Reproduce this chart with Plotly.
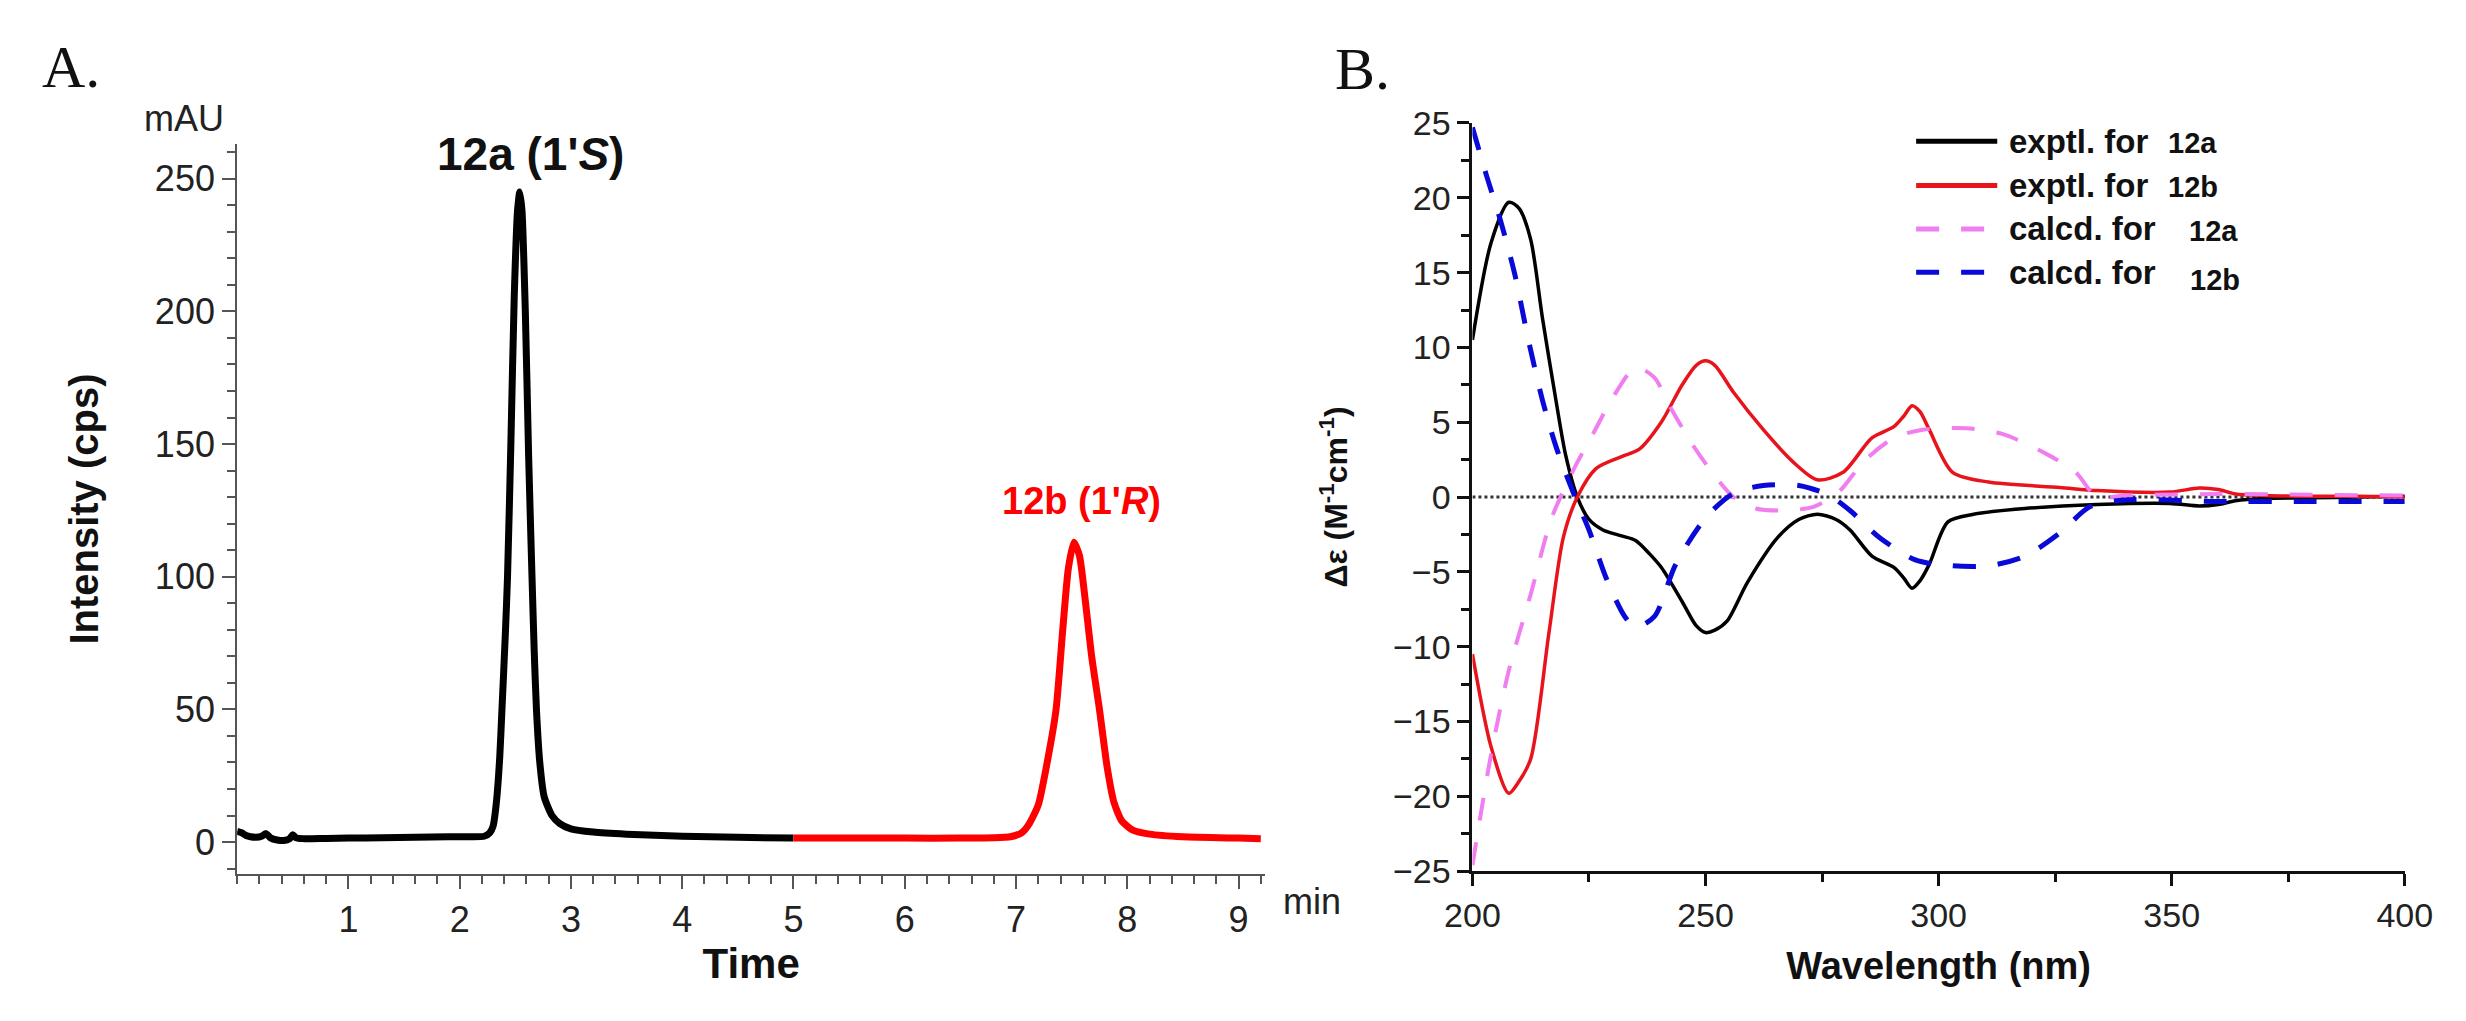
import plotly.graph_objects as go

# ---------------- Panel A: chromatogram ----------------
time_12a = [0.0, 0.04, 0.08, 0.12, 0.17, 0.22, 0.26, 0.3, 0.36, 0.42, 0.47, 0.5, 0.53, 0.6, 0.8, 1.0, 1.3, 1.6,
            1.9, 2.1, 2.22, 2.27, 2.3, 2.33, 2.36, 2.38, 2.41, 2.43, 2.46, 2.49, 2.52, 2.54, 2.56, 2.59, 2.62,
            2.65, 2.67, 2.69, 2.72, 2.76, 2.83, 2.9, 3.0, 3.2, 3.5, 4.0, 4.5, 5.0]
int_12a = [4.0, 3.5, 2.5, 2.0, 1.8, 2.2, 3.2, 1.6, 0.8, 0.6, 1.2, 2.8, 1.6, 1.3, 1.4, 1.5, 1.6, 1.8,
           2.0, 2.0, 2.2, 3.5, 6.0, 15.0, 32.0, 50.0, 78.0, 100.0, 150.0, 205.0, 238.0, 245.0, 238.0, 200.0, 145.0,
           100.0, 72.0, 50.0, 30.0, 17.0, 10.0, 7.0, 5.0, 3.8, 3.0, 2.2, 1.8, 1.5]

time_12b = [5.0, 5.5, 6.0, 6.5, 6.8, 6.95, 7.05, 7.12, 7.2, 7.28, 7.36, 7.42, 7.47, 7.52, 7.57, 7.62, 7.68, 7.75,
            7.82, 7.88, 7.95, 8.05, 8.2, 8.5, 9.0, 9.2]
int_12b = [1.5, 1.5, 1.5, 1.5, 1.6, 2.0, 3.5, 7.0, 14.0, 30.0, 50.0, 80.0, 103.0, 113.0, 108.0, 92.0, 70.0, 50.0,
           28.0, 15.0, 8.0, 4.5, 3.0, 2.0, 1.5, 1.3]

a_xticks = [1, 2, 3, 4, 5, 6, 7, 8, 9]
a_yticks = [0, 50, 100, 150, 200, 250]

# ---------------- Panel B: CD spectra ----------------
wl_exp_12a = [200, 204, 207.8, 210, 212.5, 215, 218, 220, 222.5, 225, 228, 232, 235, 238, 240.5, 245, 248, 250,
              252, 254.6, 259, 265.5, 270, 274, 278, 281, 285.7, 290.4, 292.5, 294.3, 296, 298, 302, 307.5,
              318.5, 334, 349.6, 355.9, 360, 363.7, 370, 380, 390, 400]
cd_exp_12a = [10.5, 17.0, 19.7, 19.3, 17.2, 12.0, 6.3, 2.8, 0.0, -1.5, -2.2, -2.6, -2.9, -3.8, -4.7, -7.0, -8.6, -9.06,
              -8.9, -8.3, -5.7, -2.7, -1.5, -1.15, -1.5, -2.2, -3.95, -4.7, -5.4, -6.1, -5.6, -4.5, -1.66, -1.15,
              -0.77, -0.5, -0.43, -0.6, -0.5, -0.25, -0.1, -0.05, 0.0, 0.05]

wl_exp_12b = [200, 204, 207.8, 210, 212.5, 216.4, 219.5, 222.5, 226.5, 232, 235.8, 240.5, 245, 248, 250, 252, 256,
              262.4, 268.6, 274, 279.5, 285.7, 290.4, 292.5, 294.3, 296, 298, 303, 310.7, 326, 334, 349.6, 355.9,
              360, 363.7, 370, 380, 390, 400]
cd_exp_12b = [-10.5, -16.7, -19.8, -19.0, -17.5, -9.1, -2.7, 0.0, 1.9, 2.7, 3.2, 5.0, 7.5, 8.8, 9.1, 8.8, 7.0,
              4.5, 2.4, 1.15, 1.65, 3.95, 4.7, 5.4, 6.1, 5.7, 4.5, 1.65, 1.0, 0.64, 0.43, 0.33, 0.6,
              0.5, 0.2, 0.1, 0.05, 0.05, 0.0]

wl_calc_12a = [200, 204, 207.8, 212.5, 217, 221.8, 226, 230.4, 235, 239, 242, 246.8, 251.4, 256, 260.8, 267, 273.3,
               278.7, 284, 290.4, 296.6, 306, 313.8, 323, 329.4, 334, 340, 360, 380, 400]
cd_calc_12a = [-24.6, -17.2, -11.6, -6.5, -1.4, 1.9, 4.3, 6.8, 8.65, 8.0, 6.25, 3.7, 1.65, 0.0, -0.77, -0.9, -0.64,
               0.38, 2.4, 3.95, 4.5, 4.6, 4.2, 2.9, 1.65, 0.0, 0.1, 0.2, 0.15, 0.1]

wl_calc_12b = [200, 203, 206, 209, 212, 215, 218, 222, 225, 228.8, 232.7, 235, 239, 243.6, 250, 256, 262.4, 270,
               276.4, 281, 287.3, 295, 303, 310.7, 318.5, 326, 332.5, 340, 360, 380, 400]
cd_calc_12b = [24.7, 21.5, 18.5, 15.0, 10.5, 6.5, 3.3, 0.0, -2.2, -5.5, -8.0, -8.7, -8.0, -4.5, -1.4, 0.25, 0.77, 0.77,
               0.13, -0.9, -2.7, -4.2, -4.6, -4.6, -3.95, -2.4, -0.64, -0.2, -0.3, -0.3, -0.3]

b_xticks = [200, 250, 300, 350, 400]
b_yticks = [-25, -20, -15, -10, -5, 0, 5, 10, 15, 20, 25]

legend_labels = ["exptl. for", "exptl. for", "calcd. for", "calcd. for"]
legend_compounds = ["12a", "12b", "12a", "12b"]

# ---------------- figure ----------------
W, H = 2466, 1021
def px(x):
    return x / W
def py(y):
    return 1 - y / H

SANS = "Liberation Sans, Arial, sans-serif"
NARROW = "Liberation Sans Narrow, Arial Narrow, Liberation Sans, Arial, sans-serif"
SERIF = "Liberation Serif, Times New Roman, serif"

fig = go.Figure()

fig.add_trace(go.Scatter(x=time_12a, y=int_12a, mode="lines", xaxis="x", yaxis="y",
                         line=dict(color="#000000", width=7, shape="spline", smoothing=0.6),
                         name="12a", showlegend=False))
fig.add_trace(go.Scatter(x=time_12b, y=int_12b, mode="lines", xaxis="x", yaxis="y",
                         line=dict(color="#ff0000", width=7, shape="spline", smoothing=0.6),
                         name="12b", showlegend=False))

colors_b = ["#000000", "#e8141c", "#f07ef0", "#0a0ad8"]
dashes_b = ["solid", "solid", "23px,22px", "23px,22px"]
widths_b = [3.5, 3.5, 4, 5]
series_b = [(wl_exp_12a, cd_exp_12a), (wl_exp_12b, cd_exp_12b), (wl_calc_12a, cd_calc_12a), (wl_calc_12b, cd_calc_12b)]
for i, (xs, ys) in enumerate(series_b):
    fig.add_trace(go.Scatter(x=xs, y=ys, mode="lines", xaxis="x2", yaxis="y2",
                             line=dict(color=colors_b[i], width=widths_b[i], dash=dashes_b[i],
                                       shape="spline", smoothing=0.8),
                             name=legend_labels[i] + " " + legend_compounds[i], showlegend=False))

# zero reference line in B
fig.add_shape(type="line", xref="x2", yref="y2", x0=200, x1=400, y0=0, y1=0,
              line=dict(color="#333333", width=3, dash="dot"), layer="below")

axA_common = dict(showgrid=False, zeroline=False, showline=True, linecolor="#555555", linewidth=2,
                  ticks="outside", ticklen=13, tickwidth=2, tickcolor="#555555",
                  tickfont=dict(family=NARROW, size=36, color="#222222"))
axB_common = dict(showgrid=False, zeroline=False, showline=True, linecolor="#111111", linewidth=3,
                  ticks="outside", ticklen=12, tickwidth=2.5, tickcolor="#111111",
                  tickfont=dict(family=NARROW, size=34, color="#222222"))

fig.update_layout(
    width=W, height=H, margin=dict(l=0, r=0, t=0, b=0),
    paper_bgcolor="white", plot_bgcolor="white", showlegend=False,
    xaxis=dict(domain=[px(214), px(1266)], range=[0, 9.24], tickvals=a_xticks, anchor="y",
               minor=dict(dtick=0.2, tick0=0, ticklen=8, tickwidth=2, ticks="outside", tickcolor="#555555"),
               title=dict(text="<b>Time</b>", font=dict(family=NARROW, size=42, color="#111111"), standoff=8),
               **axA_common),
    yaxis=dict(domain=[py(888), py(130)], range=[-12, 263], tickvals=a_yticks, anchor="x",
               minor=dict(dtick=10, tick0=0, ticklen=8, tickwidth=2, ticks="outside", tickcolor="#555555"),
               title=dict(text="<b>Intensity (cps)</b>", font=dict(family=SANS, size=40, color="#111111"), standoff=44),
               **axA_common),
    xaxis2=dict(domain=[px(1478), px(2432)], range=[200, 400], tickvals=b_xticks, anchor="y2",
                minor=dict(dtick=25, tick0=0, ticklen=8, tickwidth=2.5, ticks="outside", tickcolor="#111111"),
                title=dict(text="<b>Wavelength (nm)</b>", font=dict(family=NARROW, size=38, color="#111111"), standoff=20),
                **axB_common),
    yaxis2=dict(domain=[py(885), py(108)], range=[-25, 25], tickvals=b_yticks, anchor="x2",
                minor=dict(dtick=2.5, tick0=0, ticklen=8, tickwidth=2.5, ticks="outside", tickcolor="#111111"),
                title=dict(text="<b>Δε (M<sup>-1</sup>cm<sup>-1</sup>)</b>", font=dict(family=SANS, size=32, color="#111111"), standoff=36),
                **axB_common),
)

annotations = [
    dict(text="A.", x=px(12), y=py(14), xanchor="left", yanchor="top", font=dict(family=SERIF, size=60, color="#111111")),
    dict(text="B.", x=px(1335), y=py(16), xanchor="left", yanchor="top", font=dict(family=SERIF, size=60, color="#111111")),
    dict(text="mAU", x=px(160), y=py(103), xanchor="center", yanchor="middle", font=dict(family=NARROW, size=36, color="#222222")),
    dict(text="min", x=px(1282), y=py(917), xanchor="left", yanchor="middle", font=dict(family=NARROW, size=36, color="#222222")),
    dict(text="<b>12a (1'<i>S</i>)</b>", x=px(514), y=py(140), xanchor="center", yanchor="middle", font=dict(family=NARROW, size=46, color="#111111")),
    dict(text="<b>12b (1'<i>R</i>)</b>", x=px(1078), y=py(501), xanchor="center", yanchor="middle", font=dict(family=SANS, size=38, color="#ff0000")),
]

# legend for panel B drawn as samples + labels
leg_rows_y = [127, 173, 218, 263]
comp_x = [2188, 2188, 2209, 2210]
comp_dy = [0, 0, 0, 6]
for i, yy in enumerate(leg_rows_y):
    fig.add_shape(type="line", xref="paper", yref="paper", x0=px(1932), x1=px(2015), y0=py(yy), y1=py(yy),
                  line=dict(color=colors_b[i], width=5, dash=dashes_b[i]))
    annotations.append(dict(text="<b>" + legend_labels[i] + "</b>", x=px(2025), y=py(yy), xanchor="left", yanchor="middle",
                            font=dict(family=SANS, size=33, color="#111111")))
    annotations.append(dict(text="<b>" + legend_compounds[i] + "</b>", x=px(comp_x[i]), y=py(yy + 2 + comp_dy[i]),
                            xanchor="left", yanchor="middle", font=dict(family=SANS, size=29, color="#111111")))

for a in annotations:
    a.update(xref="paper", yref="paper", showarrow=False)
fig.update_layout(annotations=annotations)

fig.write_html("out.html")
